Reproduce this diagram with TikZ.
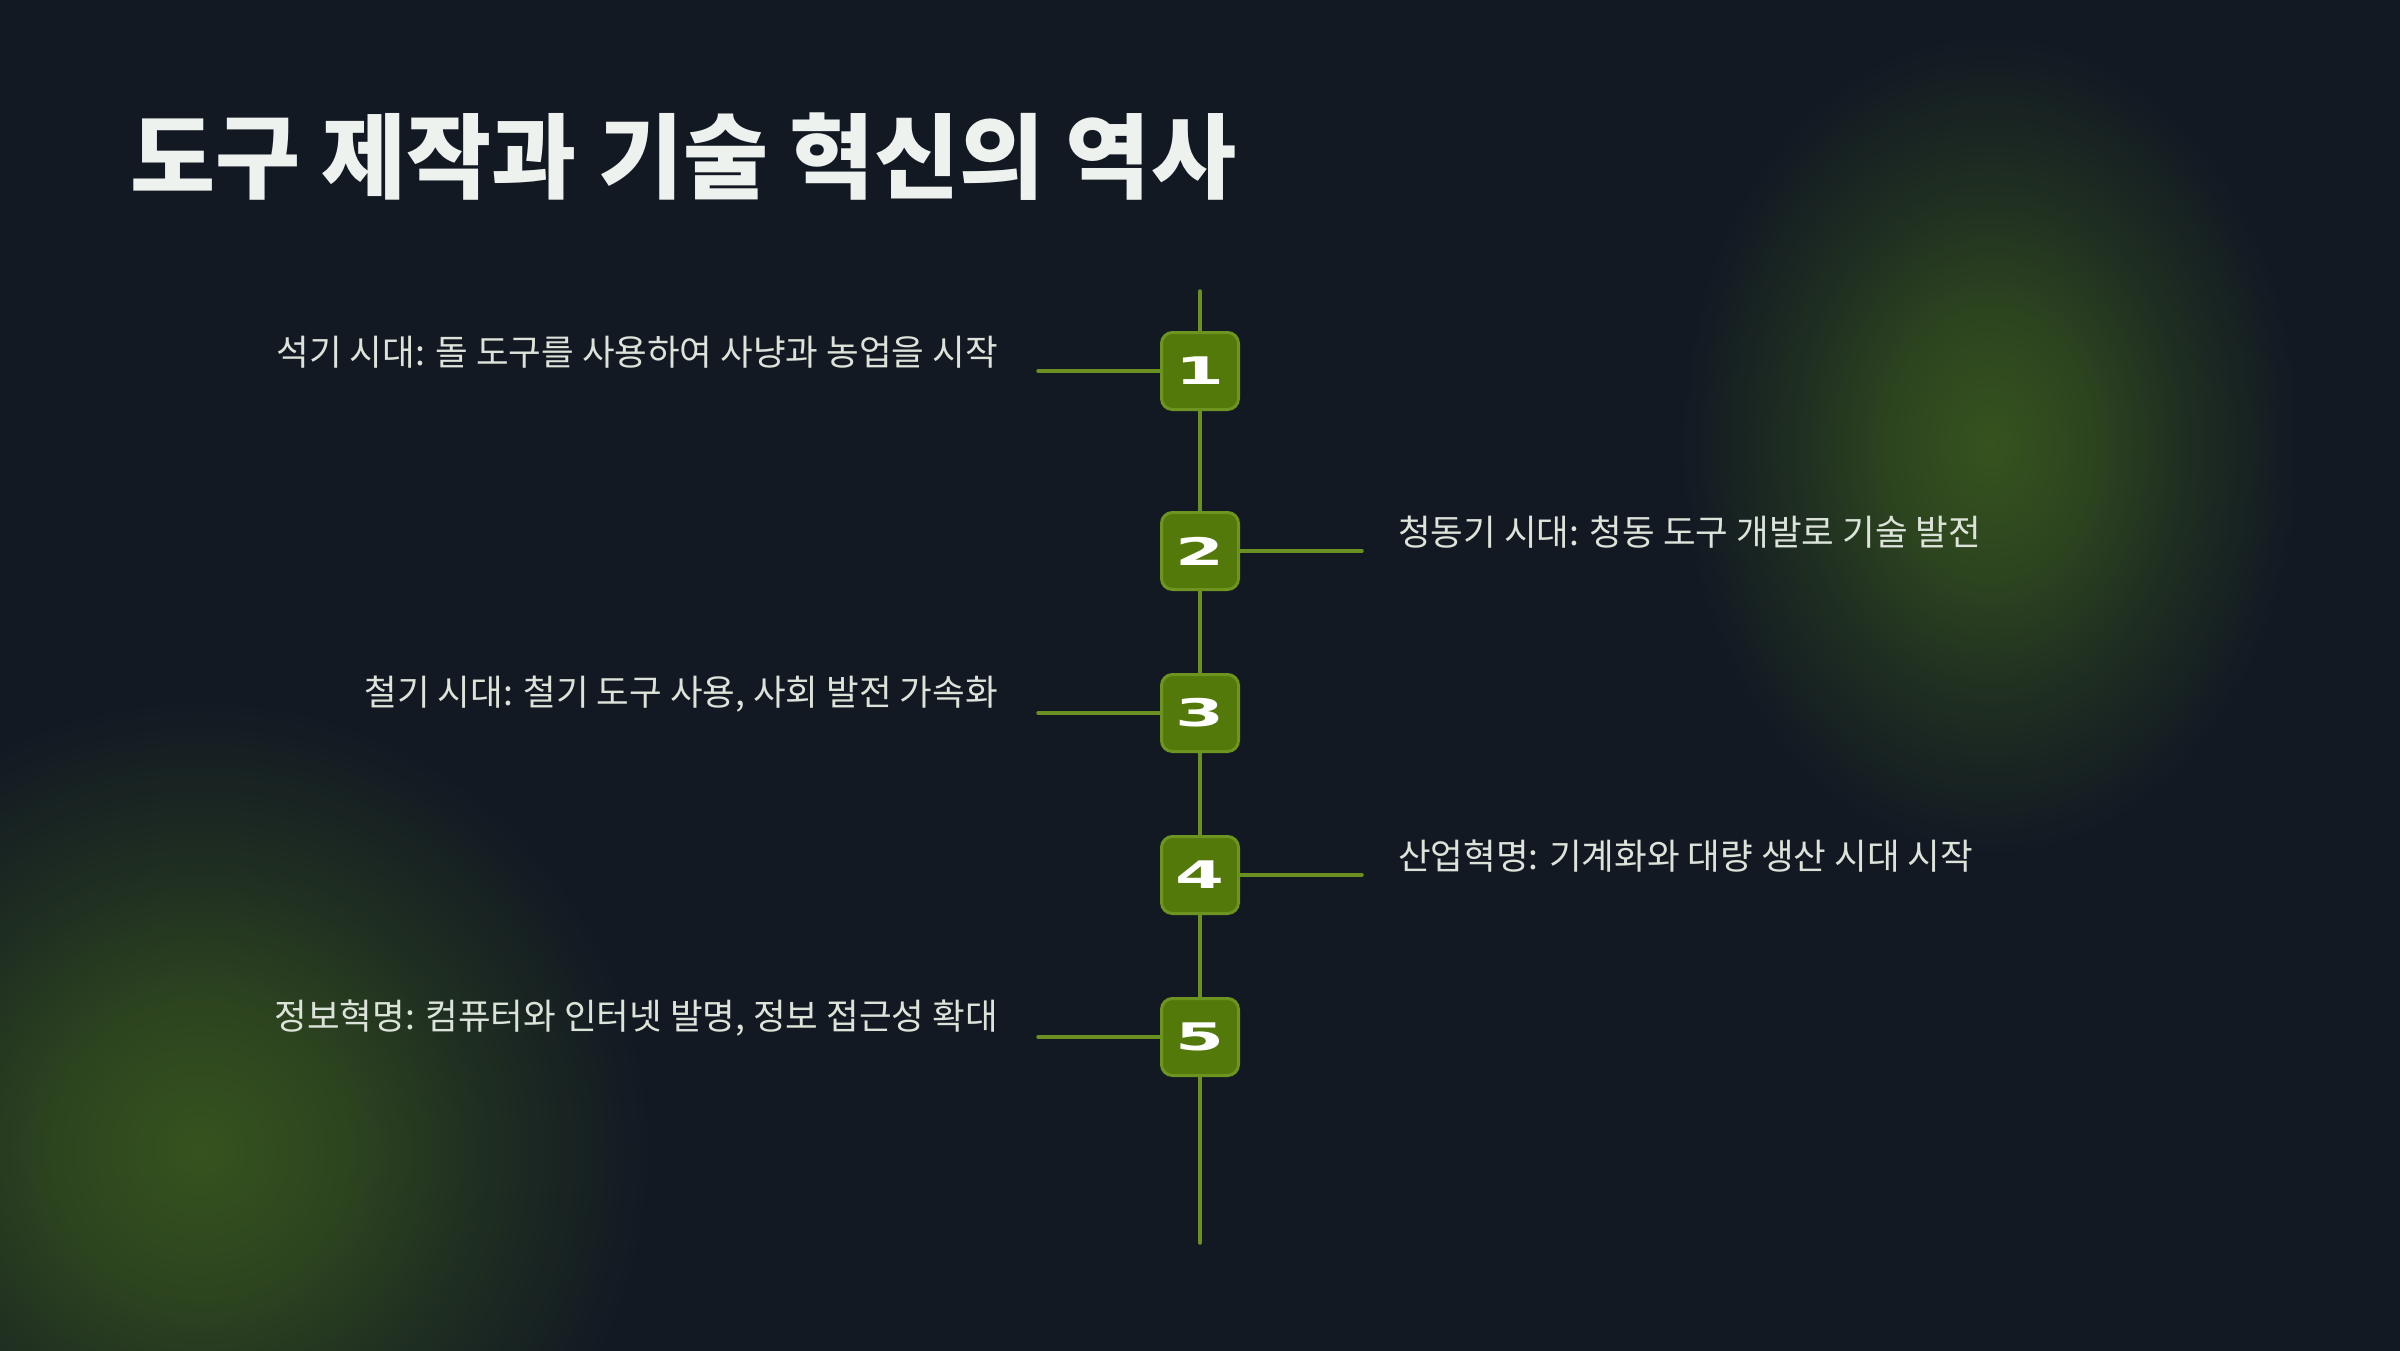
\documentclass[tikz,border=0pt]{standalone}
\usepackage{fontspec}
\usepackage{graphicx}
\setmainfont{Noto Sans CJK KR}
\newfontfamily\numfont{DejaVu Sans}
\usetikzlibrary{positioning}

\definecolor{bgnavy}{HTML}{121923}
\definecolor{glowgreen}{HTML}{36531E}
\definecolor{boxgreen}{HTML}{52790A}
\definecolor{rimgreen}{HTML}{6E9420}
\definecolor{linkgreen}{HTML}{6A9021}
\definecolor{textgray}{HTML}{DCE4DA}
\definecolor{titlewhite}{HTML}{EEF2EE}

\pgfdeclareradialshading{glow}{\pgfpoint{0bp}{0bp}}{color(0bp)=(glowgreen);
  color(8bp)=(glowgreen!75!bgnavy); color(16bp)=(glowgreen!35!bgnavy);
  color(25bp)=(bgnavy); color(50bp)=(bgnavy)}

\newcommand{\widenum}[1]{{\numfont\bfseries\fontsize{38}{38}\selectfont\scalebox{1.85}[1]{#1}}}

\begin{document}
\begin{tikzpicture}[
  x=1pt, y=-1pt,
  font=\fontsize{35.5}{42}\selectfont,
  marker/.style={rectangle, rounded corners=11pt, draw=rimgreen, line width=3pt,
                 fill=boxgreen, minimum width=77pt, minimum height=77pt,
                 inner sep=0pt, text=white},
  lbl/.style={text=textgray, inner sep=0pt},
  hdr/.style={font=\fontsize{92.5}{100}\selectfont\bfseries, text=titlewhite, inner sep=0pt},
  link/.style={draw=linkgreen, line width=3.5pt, line cap=round},
]

% ------------------------------------------------------------ background
\useasboundingbox (0,0) rectangle (2400,1350);
\fill[bgnavy] (-10,-10) rectangle (2410,1360);
\begin{scope}
  \clip (-10,-10) rectangle (2410,1360);
  \shade[shading=glow] (1990,445) ellipse (310 and 410);
  \shade[shading=glow] (200,1150) ellipse (450 and 450);
\end{scope}

% ----------------------------------------------------------------- title
\node[hdr, anchor=base west] (title) at (130,191) {도구 제작과 기술 혁신의 역사};

% -------------------------------------------------------------- timeline
\coordinate (top) at (1200,291);
\coordinate (bot) at (1200,1243);
\node[marker] (n1) at (1200,371) {\widenum{1}};
\node[marker] (n2) at (1200,551) {\widenum{2}};
\node[marker] (n3) at (1200,713) {\widenum{3}};
\node[marker] (n4) at (1200,875) {\widenum{4}};
\node[marker] (n5) at (1200,1037) {\widenum{5}};

\draw[link] (top) -- (n1) -- (n2) -- (n3) -- (n4) -- (n5) -- (bot);

% left side entries
\draw[link] (n1.west) -- ++(-122,0) coordinate (e1);
\draw[link] (n3.west) -- ++(-122,0) coordinate (e3);
\draw[link] (n5.west) -- ++(-122,0) coordinate (e5);
\node[lbl, left=40pt of e1, yshift=19pt] (t1) {석기 시대: 돌 도구를 사용하여 사냥과 농업을 시작};
\node[lbl, left=40pt of e3, yshift=19pt] (t3) {철기 시대: 철기 도구 사용, 사회 발전 가속화};
\node[lbl, left=40pt of e5, yshift=19pt] (t5) {정보혁명: 컴퓨터와 인터넷 발명, 정보 접근성 확대};

% right side entries
\draw[link] (n2.east) -- ++(122,0) coordinate (e2);
\draw[link] (n4.east) -- ++(122,0) coordinate (e4);
\node[lbl, right=36pt of e2, yshift=19pt] (t2) {청동기 시대: 청동 도구 개발로 기술 발전};
\node[lbl, right=36pt of e4, yshift=19pt] (t4) {산업혁명: 기계화와 대량 생산 시대 시작};
\end{tikzpicture}
\end{document}
